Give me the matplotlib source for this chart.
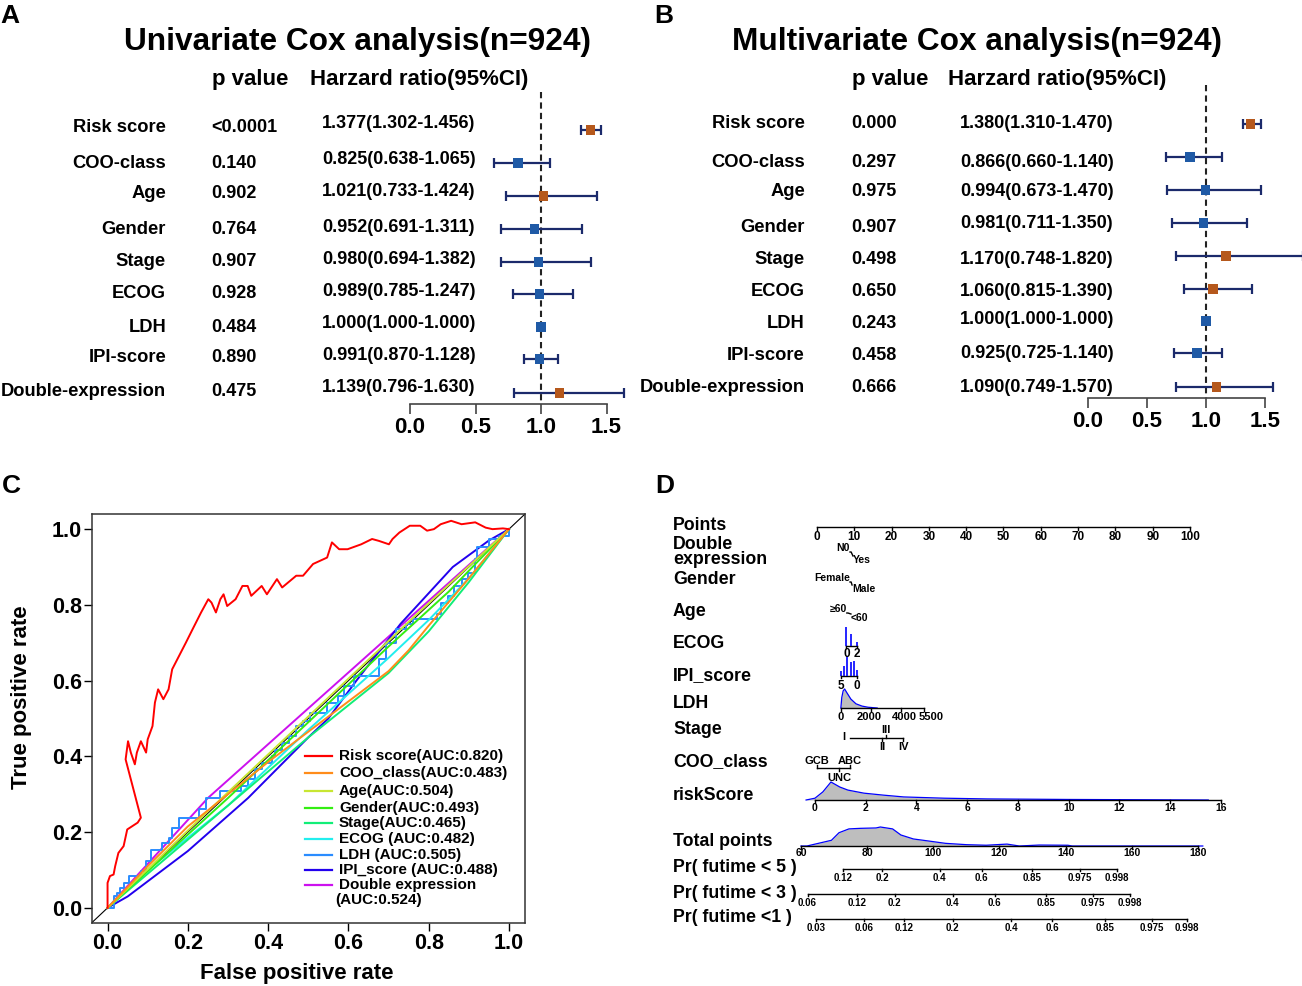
import matplotlib
matplotlib.use('Agg')
import matplotlib.pyplot as plt
from matplotlib.lines import Line2D
import numpy as np

plt.rcParams['font.family'] = ['Liberation Sans', 'DejaVu Sans']
plt.rcParams['font.weight'] = 'bold'

# ---------------- Cox forest data ----------------
variables = ['Risk score', 'COO-class', 'Age', 'Gender', 'Stage', 'ECOG', 'LDH',
             'IPI-score', 'Double-expression']

uni_p = ['<0.0001', '0.140', '0.902', '0.764', '0.907', '0.928', '0.484', '0.890', '0.475']
uni_hr = [1.377, 0.825, 1.021, 0.952, 0.980, 0.989, 1.000, 0.991, 1.139]
uni_lo = [1.302, 0.638, 0.733, 0.691, 0.694, 0.785, 1.000, 0.870, 0.796]
uni_hi = [1.456, 1.065, 1.424, 1.311, 1.382, 1.247, 1.000, 1.128, 1.630]

multi_p = ['0.000', '0.297', '0.975', '0.907', '0.498', '0.650', '0.243', '0.458', '0.666']
multi_hr = [1.380, 0.866, 0.994, 0.981, 1.170, 1.060, 1.000, 0.925, 1.090]
multi_lo = [1.310, 0.660, 0.673, 0.711, 0.748, 0.815, 1.000, 0.725, 0.749]
multi_hi = [1.470, 1.140, 1.470, 1.350, 1.820, 1.390, 1.000, 1.140, 1.570]

hr_ticks = [0.0, 0.5, 1.0, 1.5]

# ---------------- ROC data ----------------
roc_labels = ['Risk score(AUC:0.820)', 'COO_class(AUC:0.483)', 'Age(AUC:0.504)',
              'Gender(AUC:0.493)', 'Stage(AUC:0.465)', 'ECOG (AUC:0.482)',
              'LDH (AUC:0.505)', 'IPI_score (AUC:0.488)', 'Double expression\n(AUC:0.524)']
roc_colors = ['#FF0000', '#FF8C1A', '#C8E632', '#33EE11', '#11EE77', '#22EEEE',
              '#2A8CFF', '#2200EE', '#CC11EE']

risk_fpr = [0, 0, 0.006, 0.015, 0.019, 0.027, 0.040, 0.049, 0.062, 0.075, 0.083, 0.045,
            0.051, 0.058, 0.068, 0.073, 0.083, 0.096, 0.100, 0.112, 0.118, 0.126, 0.139,
            0.152, 0.161, 0.178, 0.195, 0.212, 0.233, 0.251, 0.259, 0.270, 0.281, 0.289,
            0.298, 0.319, 0.336, 0.349, 0.358, 0.384, 0.397, 0.422, 0.435, 0.470, 0.487,
            0.512, 0.547, 0.559, 0.577, 0.598, 0.632, 0.659, 0.676, 0.701, 0.710, 0.727,
            0.753, 0.779, 0.796, 0.813, 0.830, 0.856, 0.882, 0.916, 0.942, 0.959, 0.985, 1.0]
risk_tpr = [0, 0.066, 0.084, 0.088, 0.110, 0.145, 0.163, 0.207, 0.216, 0.225, 0.238, 0.392,
            0.440, 0.410, 0.379, 0.410, 0.440, 0.410, 0.445, 0.480, 0.542, 0.577, 0.551,
            0.577, 0.630, 0.665, 0.700, 0.736, 0.780, 0.815, 0.806, 0.780, 0.815, 0.828,
            0.797, 0.815, 0.850, 0.850, 0.824, 0.850, 0.828, 0.868, 0.846, 0.877, 0.877,
            0.908, 0.925, 0.965, 0.947, 0.947, 0.960, 0.974, 0.969, 0.960, 0.974, 0.991,
            1.009, 1.009, 0.996, 1.000, 1.013, 1.022, 1.013, 1.018, 1.004, 1.000, 1.002, 1.0]
coo_fpr = [0, 0.1, 0.2, 0.3, 0.4, 0.5, 0.6, 0.7, 0.75, 0.8, 0.9, 1]
coo_tpr = [0, 0.11, 0.215, 0.30, 0.385, 0.465, 0.545, 0.625, 0.68, 0.745, 0.87, 1]
age_fpr = [0, 0.25, 0.5, 0.75, 1]
age_tpr = [0, 0.255, 0.505, 0.755, 1]
gender_fpr = [0, 0.3, 0.5, 0.7, 0.85, 1]
gender_tpr = [0, 0.29, 0.49, 0.69, 0.835, 1]
stage_fpr = [0, 0.2, 0.5, 0.7, 0.8, 0.9, 1]
stage_tpr = [0, 0.18, 0.45, 0.62, 0.73, 0.86, 1]
ecog_fpr = [0, 0.1, 0.3, 0.5, 0.7, 0.8, 0.9, 1]
ecog_tpr = [0, 0.1, 0.27, 0.47, 0.66, 0.76, 0.87, 1]
ldh_fpr = [0, 0.015, 0.023, 0.032, 0.040, 0.053, 0.066, 0.083, 0.096, 0.109, 0.126, 0.135,
           0.152, 0.161, 0.178, 0.212, 0.229, 0.246, 0.281, 0.315, 0.332, 0.349, 0.367,
           0.384, 0.409, 0.418, 0.435, 0.452, 0.470, 0.487, 0.504, 0.538, 0.547, 0.573,
           0.590, 0.615, 0.667, 0.676, 0.693, 0.718, 0.744, 0.761, 0.787, 0.821, 0.830,
           0.847, 0.864, 0.882, 0.899, 0.916, 0.920, 0.950, 0.976, 1.0]
ldh_tpr = [0, 0.031, 0.040, 0.053, 0.066, 0.084, 0.084, 0.097, 0.123, 0.154, 0.154, 0.172,
           0.185, 0.211, 0.238, 0.238, 0.260, 0.291, 0.308, 0.308, 0.322, 0.339, 0.366,
           0.383, 0.401, 0.418, 0.436, 0.454, 0.480, 0.493, 0.515, 0.515, 0.542, 0.559,
           0.586, 0.612, 0.612, 0.656, 0.700, 0.736, 0.749, 0.762, 0.762, 0.775, 0.806,
           0.824, 0.850, 0.868, 0.885, 0.921, 0.952, 0.974, 0.982, 1.0]
ipi_fpr = [0, 0.05, 0.2, 0.35, 0.5, 0.55, 0.62, 0.73, 0.86, 0.95, 1]
ipi_tpr = [0, 0.03, 0.15, 0.29, 0.45, 0.5, 0.6, 0.75, 0.90, 0.97, 1]
dbl_fpr = [0, 0.25, 1]
dbl_tpr = [0, 0.29, 1]
roc_fpr = [risk_fpr, coo_fpr, age_fpr, gender_fpr, stage_fpr, ecog_fpr, ldh_fpr, ipi_fpr, dbl_fpr]
roc_tpr = [risk_tpr, coo_tpr, age_tpr, gender_tpr, stage_tpr, ecog_tpr, ldh_tpr, ipi_tpr, dbl_tpr]

# ---------------- nomogram data (positions in points) ----------------
nomo_labels = ['Points', 'Double\nexpression', 'Gender', 'Age', 'ECOG', 'IPI_score', 'LDH',
               'Stage', 'COO_class', 'riskScore', 'Total points', 'Pr( futime < 5 )',
               'Pr( futime < 3 )', 'Pr( futime <1 )']
points_ticks = list(range(0, 101, 10))
double_levels = ['N0', 'Yes']
double_pts = [8.85, 9.65]
gender_levels = ['Female', 'Male']
gender_pts = [8.85, 9.4]
age_levels = ['\u226560', '<60']
age_pts = [8.0, 9.1]
ecog_vals = [0, 1, 2]
ecog_pts = [7.9, 9.2, 10.7]
ecog_freq = [1.0, 0.63, 0.2]
ipi_vals = [0, 1, 2, 3, 4, 5]
ipi_pts = [10.7, 9.9, 9.0, 8.1, 7.3, 6.4]
ipi_freq = [0.3, 0.75, 0.7, 1.0, 0.5, 0.25]
ldh_range = [0, 5500]
ldh_range_pts = [6.4, 28.7]
ldh_ticks = [0, 2000, 4000, 5500]
ldh_vals = [0, 60, 150, 250, 400, 660, 1000, 1400, 1800, 2400]
ldh_dens = [0, 0.55, 0.9, 1.0, 0.8, 0.47, 0.22, 0.1, 0.04, 0]
stage_levels = ['I', 'II', 'III', 'IV']
stage_pts = [8.8, 17.4, 18.5, 23.1]
coo_levels = ['GCB', 'UNC', 'ABC']
coo_pts = [0.0, 5.9, 8.8]
rs_range = [0, 16]
rs_range_pts = [-0.54, 108.3]
rs_ticks = list(range(0, 17, 2))
rs_vals = [-0.35, 0, 0.31, 0.63, 0.98, 1.3, 1.93, 2.7, 3.5, 5.1, 6.8, 10, 15.5]
rs_dens = [0, 0.1, 0.45, 1.0, 0.72, 0.55, 0.38, 0.27, 0.17, 0.1, 0.06, 0.03, 0]
tp_range = [60, 180]
tp_range_pts = [-4.29, 102.1]
tp_ticks = list(range(60, 181, 20))
tp_vals = [60, 61.8, 69.2, 71.5, 74.5, 78, 82.7, 84, 87.7, 90.2, 94, 98.7, 103.7, 110, 116,
           122.3, 126, 132, 140.7, 142, 181.5]
tp_dens = [0, 0, 0.3, 0.7, 0.9, 0.93, 0.95, 1.0, 0.9, 0.58, 0.37, 0.26, 0.14, 0.07, 0.04,
           0.1, 0.0, 0.05, 0.04, 0, 0]
pr5_labels = ['0.12', '0.2', '0.4', '0.6', '0.85', '0.975', '0.998']
pr5_tp = [72.7, 84.5, 102.0, 114.7, 129.8, 144.3, 155.5]
pr3_labels = ['0.06', '0.12', '0.2', '0.4', '0.6', '0.85', '0.975', '0.998']
pr3_tp = [62.0, 76.9, 88.4, 105.9, 118.6, 134.1, 148.3, 159.5]
pr1_labels = ['0.03', '0.06', '0.12', '0.2', '0.4', '0.6', '0.85', '0.975', '0.998']
pr1_tp = [64.5, 79.0, 91.1, 105.9, 123.5, 135.9, 151.9, 166.1, 176.7]

# ---------------- figure ----------------
W, H = 1302, 986
fig = plt.figure(figsize=(W / 100, H / 100), dpi=100)


def fx(x):
    return x / W


def fy(y):
    return 1 - y / H


def put(x, y, s, **kw):
    kw.setdefault('va', 'center')
    fig.text(fx(x), fy(y), s, **kw)


def px_axes(x0, y0, x1, y1):
    ax = fig.add_axes([fx(x0), fy(y1), (x1 - x0) / W, (y1 - y0) / H])
    ax.patch.set_alpha(0)
    return ax


def forest(box, xlim, title, title_x, head_x, p, hr, lo, hi, mark_y, text_y, hr_y,
           col_label, col_p, col_hr, dash_top):
    x0, y0, x1, y1 = box
    ax = px_axes(x0, y0, x1, y1)
    ax.set_xlim(xlim)
    ax.set_ylim(y1, y0)
    for sp in ['top', 'right', 'left']:
        ax.spines[sp].set_visible(False)
    ax.spines['bottom'].set_bounds(0, 1.5)
    ax.spines['bottom'].set_color('#444444')
    ax.spines['bottom'].set_linewidth(1.2)
    ax.set_yticks([])
    ax.set_xticks(hr_ticks)
    ax.set_xticklabels([f'{t:.1f}' for t in hr_ticks])
    ax.tick_params(axis='x', length=7.2, width=1.2, color='#444444', labelsize=16, pad=2)
    ax.vlines(1.0, dash_top, y1, colors='#222222', linestyles=(0, (3, 2)), lw=1.5)
    hr = np.array(hr)
    ax.errorbar(hr, mark_y, xerr=[hr - np.array(lo), np.array(hi) - hr], fmt='none',
                ecolor='#1B2A6B', elinewidth=1.6, capsize=3.6, capthick=1.6, zorder=2)
    colors = ['#B5581C' if v > 1 else '#1F5AA6' for v in hr]
    ax.scatter(hr, mark_y, marker='s', s=45, c=colors, zorder=3, linewidths=0)
    put(title_x, 42, title, ha='center', fontsize=22.8)
    put(head_x[0], 80, 'p value', ha='left', fontsize=16)
    put(head_x[1], 80, 'Harzard ratio(95%CI)', ha='left', fontsize=16)
    for i, name in enumerate(variables):
        put(col_label, text_y[i], name, ha='right', fontsize=13.2)
        put(col_p, text_y[i], p[i], ha='left', fontsize=13)
        put(col_hr, hr_y[i], f'{hr[i]:.3f}({lo[i]:.3f}-{hi[i]:.3f})', ha='left', fontsize=13)


# Panel A
forest((0, 0, 650, 404), (-3.130, 1.832), 'Univariate Cox analysis(n=924)', 357, (212, 310),
       uni_p, uni_hr, uni_lo, uni_hi,
       [130, 163, 196, 229, 262, 294, 327, 359, 393],
       [127, 164, 193, 229, 262, 293, 327, 358, 391],
       [123, 160, 191, 227, 259, 291, 323, 356, 388],
       166, 211, 322, 92)
# Panel B
forest((650, 0, 1302, 398), (-3.712, 1.814), 'Multivariate Cox analysis(n=924)', 977, (852, 948),
       multi_p, multi_hr, multi_lo, multi_hi,
       [124, 157, 190, 223, 256, 289, 321, 353, 387],
       [124, 162, 191, 227, 259, 291, 323, 355, 388],
       [124, 162, 191, 224, 260, 291, 320, 353, 387],
       805, 851, 960, 85)

# Panel C: ROC
axc = px_axes(91.5, 514, 525, 923)
axc.set_xlim(-0.04, 1.04)
axc.set_ylim(-0.04, 1.04)
ticks = np.round(np.arange(0, 1.01, 0.2), 1)
axc.set_xticks(ticks)
axc.set_yticks(ticks)
axc.set_xticklabels([f'{t:.1f}' for t in ticks])
axc.set_yticklabels([f'{t:.1f}' for t in ticks])
axc.tick_params(length=6, width=1, labelsize=15.5, pad=1)
for sp in axc.spines.values():
    sp.set_linewidth(1.1)
    sp.set_color('#333333')
axc.axline((0, 0), (1, 1), color='black', lw=0.8)
for i in range(len(roc_labels) - 1, -1, -1):
    ds = 'steps-post' if i == 6 else 'default'
    axc.plot(roc_fpr[i], roc_tpr[i], color=roc_colors[i], lw=1.4, drawstyle=ds)
put(22, 697, 'True positive rate', ha='center', rotation=90, fontsize=16)
put(297, 973, 'False positive rate', ha='center', fontsize=16)

leg_y = [756, 773, 791, 808, 823, 839, 855, 870, 885]
for y, lab, col in zip(leg_y, roc_labels, roc_colors):
    fig.add_artist(Line2D([fx(305), fx(332)], [fy(y), fy(y)], color=col, lw=1.6))
    lines = lab.split('\n')
    put(339, y, lines[0], ha='left', fontsize=11)
    if len(lines) > 1:
        put(335, y + 15, lines[1], ha='left', fontsize=11)

# Panel D: nomogram
axd = px_axes(660, 500, 1302, 986)
axd.set_xlim(-42.09, 130.03)
axd.set_ylim(986, 500)
axd.axis('off')

label_y = [526, 552, 579, 612, 643, 676, 703, 730, 762, 795, 842, 867, 893, 918]
for lab, y in zip(nomo_labels, label_y):
    put(673, y, lab, ha='left', fontsize=12.8, linespacing=0.8)

K = dict(color='black', lw=1)

# Points
axd.plot([points_ticks[0], points_ticks[-1]], [527, 527], **K)
for t in points_ticks:
    axd.plot([t, t], [527, 530], **K)
    axd.text(t, 537, str(t), ha='center', va='center', fontsize=8.5)

# binary rows
for levels, pts, yh, yl in [(double_levels, double_pts, 548, 560),
                            (gender_levels, gender_pts, 578, 589),
                            (age_levels, age_pts, 609, 618)]:
    axd.plot([pts[0], pts[0] + 0.3, pts[1]], [yh + 4, yh + 4, yl - 4], **K)
    axd.text(pts[0], yh, levels[0], ha='right', va='center', fontsize=7.5)
    axd.text(pts[1], yl, levels[1], ha='left', va='center', fontsize=7.5)

# ECOG spikes
axd.plot([ecog_pts[0], ecog_pts[-1]], [646, 646], **K)
axd.vlines(ecog_pts, 646 - 19 * np.array(ecog_freq), 646, colors='#0000FF', lw=1.2)
for v, p in zip(ecog_vals, ecog_pts):
    if v in (0, 2):
        axd.plot([p, p], [646, 648], **K)
        axd.text(p, 654, str(v), ha='center', va='center', fontsize=8.5)

# IPI spikes
axd.plot([min(ipi_pts), max(ipi_pts)], [676, 676], **K)
axd.vlines(ipi_pts, 676 - 20 * np.array(ipi_freq), 676, colors='#0000FF', lw=1.2)
for v, p in zip(ipi_vals, ipi_pts):
    if v in (0, 5):
        axd.plot([p, p], [676, 678], **K)
        axd.text(p, 686, str(v), ha='center', va='center', fontsize=8.5)


def lin(vals, rng, rng_pts):
    v = np.array(vals, float)
    return rng_pts[0] + (v - rng[0]) * (rng_pts[1] - rng_pts[0]) / (rng[1] - rng[0])


def density_row(vals, dens, rng, rng_pts, ticks, base, height, lab_y, fs=7.5, shift=None):
    xs = lin(vals, rng, rng_pts)
    ys = base - height * np.array(dens)
    axd.fill_between(xs, ys, base, color='#BEBEBE', lw=0)
    axd.plot(xs, ys, color='#0000FF', lw=0.9)
    tx = lin(ticks, rng, rng_pts)
    axd.plot([tx[0], tx[-1]], [base, base], **K)
    for j, (t, x) in enumerate(zip(ticks, tx)):
        axd.plot([x, x], [base, base + 2.5], **K)
        dx = shift[j] if shift else 0
        axd.text(x + dx, lab_y, str(t), ha='center', va='center', fontsize=fs)


density_row(ldh_vals, ldh_dens, ldh_range, ldh_range_pts, ldh_ticks, 708, 19, 717,
            fs=8, shift=[0, -0.5, 0.8, 1.9])

# Stage
axd.plot([stage_pts[0], stage_pts[-1]], [738, 738], **K)
axd.text(stage_pts[0] - 1.2, 737, stage_levels[0], ha='right', va='center', fontsize=8)
for lev, p, up in zip(stage_levels[1:], stage_pts[1:], [False, True, False]):
    axd.plot([p, p], [738, 735 if up else 741], **K)
    axd.text(p, 730 if up else 747, lev, ha='center', va='center', fontsize=8)

# COO class
axd.plot([coo_pts[0], coo_pts[-1]], [768, 768], **K)
for lev, p, up in zip(coo_levels, coo_pts, [True, False, True]):
    axd.plot([p, p], [768, 765 if up else 771], **K)
    axd.text(p, 761 if up else 778, lev, ha='center', va='center', fontsize=8)

# riskScore & Total points
density_row(rs_vals, rs_dens, rs_range, rs_range_pts, rs_ticks, 800, 18, 808)
density_row(tp_vals, tp_dens, tp_range, tp_range_pts, tp_ticks, 846, 19, 853)

# probability scales
for labels, tps, base in [(pr5_labels, pr5_tp, 869), (pr3_labels, pr3_tp, 894),
                          (pr1_labels, pr1_tp, 919)]:
    xs = lin(tps, tp_range, tp_range_pts)
    axd.plot([xs[0], xs[-1]], [base, base], **K)
    for lab, x in zip(labels, xs):
        axd.plot([x, x], [base, base + 2], **K)
        axd.text(x, base + 9, lab, ha='center', va='center', fontsize=7)

# panel letters
for letter, x, y in [('A', 0, 16), ('B', 654, 16), ('C', 2, 486), ('D', 655, 486)]:
    put(x, y, letter, ha='left', fontsize=19)

fig.savefig('out.png', dpi=100)
